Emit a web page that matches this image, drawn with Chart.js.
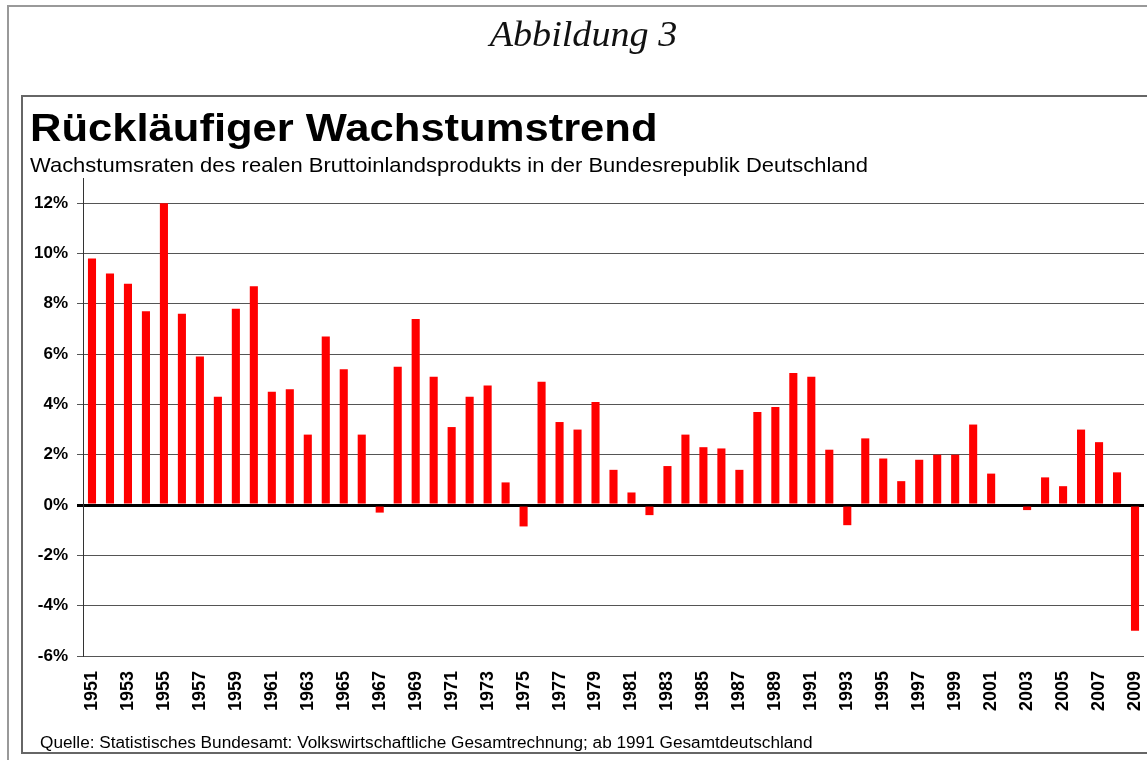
<!DOCTYPE html>
<html lang="de">
<head>
<meta charset="utf-8">
<title>Rückläufiger Wachstumstrend</title>
<script src="https://cdn.jsdelivr.net/npm/chart.js@4.4.1/dist/chart.umd.min.js"></script>
<style>
  html, body { margin: 0; padding: 0; background: #fff; }
  body { width: 1147px; height: 760px; position: relative; overflow: hidden; font-family: "Liberation Sans", Arial, sans-serif; }
  .outer { position: absolute; left: 7px; top: 5px; width: 1160px; height: 770px; border: 2px solid #999; box-sizing: border-box; }
  .inner { position: absolute; left: 21px; top: 95px; width: 1150px; height: 659px; border: 2px solid #666; box-sizing: border-box; }
  #fig { position: absolute; left: 0; width: 1167px; top: 14px; text-align: center; font-family: "Liberation Serif", "Times New Roman", serif; font-style: italic; font-size: 36px; color: #111; line-height: 40px; transform: scaleX(1.06); }
  #title { position: absolute; left: 30px; top: 106px; font-weight: bold; font-size: 38px; line-height: 44px; color: #000; white-space: nowrap; transform: scaleX(1.146); transform-origin: left center; }
  #subtitle { position: absolute; left: 30px; top: 153px; font-size: 21px; line-height: 24px; color: #000; white-space: nowrap; transform: scaleX(1.046); transform-origin: left center; }
  #source { position: absolute; left: 40px; top: 734px; font-size: 16px; line-height: 18px; color: #000; white-space: nowrap; transform: scaleX(1.075); transform-origin: left center; }
  #chart { position: absolute; left: 0; top: 0; }
</style>
</head>
<body>
<div class="outer"></div>
<div class="inner"></div>
<canvas id="chart" width="1147" height="760"></canvas>
<div id="fig">Abbildung 3</div>
<div id="title">Rückläufiger Wachstumstrend</div>
<div id="subtitle">Wachstumsraten des realen Bruttoinlandsprodukts in der Bundesrepublik Deutschland</div>
<div id="source">Quelle: Statistisches Bundesamt: Volkswirtschaftliche Gesamtrechnung; ab 1991 Gesamtdeutschland</div>

<script>
// years 1951..2009
const years = [];
for (let y = 1951; y <= 2009; y++) years.push(String(y));

const growth = [
  9.8, 9.2, 8.8, 7.7, 12.0, 7.6, 5.9, 4.3, 7.8, 8.7,   // 1951-1960
  4.5, 4.6, 2.8, 6.7, 5.4, 2.8, -0.3, 5.5, 7.4, 5.1,   // 1961-1970
  3.1, 4.3, 4.75, 0.9, -0.85, 4.9, 3.3, 3.0, 4.1, 1.4, // 1971-1980
  0.5, -0.4, 1.55, 2.8, 2.3, 2.25, 1.4, 3.7, 3.9, 5.25, // 1981-1990
  5.1, 2.2, -0.8, 2.65, 1.85, 0.95, 1.8, 2.0, 2.0, 3.2, // 1991-2000
  1.25, 0.0, -0.2, 1.1, 0.75, 3.0, 2.5, 1.3, -5.0      // 2001-2009
];

const yTicks = [-6, -4, -2, 0, 2, 4, 6, 8, 10, 12];

new Chart(document.getElementById("chart"), {
  type: "bar",
  data: {
    labels: years,
    datasets: [{
      data: growth,
      backgroundColor: "#ff0000",
      borderWidth: 0,
      barPercentage: 0.9,
      categoryPercentage: 0.5
    }]
  },
  options: {
    responsive: false,
    animation: false,
    devicePixelRatio: 1,
    layout: { padding: { left: 21, top: 178, right: 3, bottom: 40 } },
    plugins: { legend: { display: false }, tooltip: { enabled: false } },
    scales: {
      x: {
        grid: { display: false, drawTicks: false },
        border: { display: false },
        afterFit: s => {
          s.height = 64;
          s.paddingLeft = 0;
          s.paddingRight = 0;
        },
        ticks: {
          autoSkip: false,
          minRotation: 90,
          maxRotation: 90,
          padding: 15,
          color: "#000",
          font: { family: "Liberation Sans", size: 18, weight: "bold" },
          callback: (v, i) => (i % 2 === 0 ? years[i] : "")
        }
      },
      y: {
        min: -6,
        max: 13,
        afterFit: s => {
          s.width = 62;
          s.paddingTop = 0;
          s.paddingBottom = 0;
        },
        afterBuildTicks: s => { s.ticks = yTicks.map(v => ({ value: v })); },
        border: { display: true, color: "#333", width: 1 },
        grid: {
          color: c => (c.tick && c.tick.value === 0 ? "#000" : "#555"),
          lineWidth: c => (c.tick && c.tick.value === 0 ? 3 : 1),
          tickLength: 6
        },
        ticks: {
          padding: 9,
          color: "#000",
          font: { family: "Liberation Sans", size: 17, weight: "bold" },
          callback: v => v + "%"
        }
      }
    }
  }
});
</script>
</body>
</html>
